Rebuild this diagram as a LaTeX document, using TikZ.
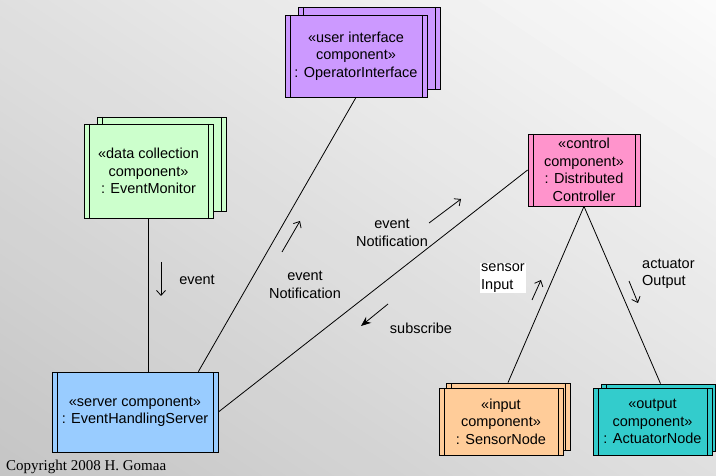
\documentclass[tikz,border=0pt]{standalone}
\usepackage{fontspec}
\setmainfont{Liberation Sans}
\newfontfamily\copyfont{Liberation Serif}
\usetikzlibrary{arrows.meta,calc}

\definecolor{uipurple}{HTML}{CC99FF}
\definecolor{dcgreen}{HTML}{CCFFCC}
\definecolor{ctlpink}{HTML}{FF94CC}
\definecolor{srvblue}{HTML}{99CCFF}
\definecolor{inorange}{HTML}{FFCC99}
\definecolor{outteal}{HTML}{33CCCC}

\newcommand\diafont{\fontsize{14.5}{17.5}\selectfont}

\tikzset{
  comp/.style={draw=black, line width=0.8pt, rectangle, inner sep=0pt,
    align=center, font=\diafont,
    path picture={
      \draw[line width=0.8pt]
        ([xshift=5pt]path picture bounding box.north west) --
        ([xshift=5pt]path picture bounding box.south west);
      \draw[line width=0.8pt]
        ([xshift=-5pt]path picture bounding box.north east) --
        ([xshift=-5pt]path picture bounding box.south east);
    }},
  link/.style={draw=black, line width=0.8pt},
  lab/.style={font=\diafont, align=center, inner sep=1pt},
  flow/.style={line width=0.8pt, -{Straight Barb[length=5pt,width=9pt]}},
  flowsolid/.style={line width=0.8pt, -{Stealth[length=10pt,width=8pt]}},
}

\begin{document}
\begin{tikzpicture}[x=1pt,y=-1pt]
  \useasboundingbox (0,0) rectangle (716,476);

  % diagonal grey-to-white backdrop, built from thin bands
  \begin{scope}
    \clip (0,0) rectangle (716,476);
    \foreach \k in {0,...,59} {
      \pgfmathsetmacro\ta{\k/60}
      \pgfmathsetmacro\tb{(\k+1.4)/60}
      \pgfmathsetmacro\lev{0.77+0.215*(\k+0.5)/60}
      \definecolor{bandcol}{gray}{\lev}
      \fill[bandcol]
        ({716*(\ta-0.5)},{476*(0.5-\ta)}) --
        ({716*(\tb-0.5)},{476*(0.5-\tb)}) --
        ({716*(\tb+0.5)},{476*(1.5-\tb)}) --
        ({716*(\ta+0.5)},{476*(1.5-\ta)}) -- cycle;
    }
  \end{scope}

  % user interface component (stacked)
  \node[comp, fill=uipurple, minimum width=142pt, minimum height=82pt] (uib) at (369,48) {};
  \node[comp, fill=uipurple, minimum width=142pt, minimum height=82pt] (ui) at (356,56)
    {«user interface\\component»\\: OperatorInterface};

  % data collection component (stacked)
  \node[comp, fill=dcgreen, minimum width=129pt, minimum height=94pt] (monb) at (161.5,164) {};
  \node[comp, fill=dcgreen, minimum width=129pt, minimum height=94pt] (mon) at (148.5,171)
    {«data collection\\component»\\: EventMonitor};

  % control component
  \node[comp, fill=ctlpink, minimum width=112pt, minimum height=72pt] (ctl) at (584,170)
    {«control\\component»\\: Distributed\\Controller};

  % server component
  \node[comp, fill=srvblue, minimum width=166pt, minimum height=80pt] (srv) at (135,412)
    {«server component»\\: EventHandlingServer};

  % input component (stacked)
  \node[comp, fill=inorange, minimum width=124pt, minimum height=67pt] (inpb) at (508,416.5) {};
  \node[comp, fill=inorange, minimum width=124pt, minimum height=67pt] (inp) at (501,421.5)
    {«input\\component»\\: SensorNode};

  % output component (stacked)
  \node[comp, fill=outteal, minimum width=119pt, minimum height=67pt] (outb) at (660.5,417.5) {};
  \node[comp, fill=outteal, minimum width=119pt, minimum height=67pt] (outp) at (652.5,421.5)
    {«output\\component»\\: ActuatorNode};

  % connectors
  \draw[link] (mon.south) -- (mon.south |- srv.north);
  \draw[link] ($(srv.north west)!0.88!(srv.north east)$) -- (ui.south);
  \draw[link] (srv.east) -- (ctl.west);
  \draw[link] (ctl.south) -- (inpb.north);
  \draw[link] (ctl.south) -- (outb.north);

  % message arrows
  \coordinate (evA) at (161,262);   \coordinate (evB) at (161,296);
  \coordinate (enA) at (282,252);   \coordinate (enB) at (300,221);
  \coordinate (ecA) at (429,223);   \coordinate (ecB) at (461,199);
  \coordinate (sbA) at (388,304);   \coordinate (sbB) at (361,326);
  \coordinate (siA) at (532,300);   \coordinate (siB) at (541,280);
  \coordinate (aoA) at (629,281);   \coordinate (aoB) at (638,303);
  \draw[flow] (evA) -- (evB);
  \draw[flow] (enA) -- (enB);
  \draw[flow] (ecA) -- (ecB);
  \draw[flowsolid] (sbA) -- (sbB);
  \draw[flow] (siA) -- (siB);
  \draw[flow] (aoA) -- (aoB);

  % message labels
  \node[lab] (lev) at (197,280) {event};
  \node[lab] (len) at (305,285) {event\\Notification};
  \node[lab] (lec) at (392,233) {event\\Notification};
  \node[lab] (lsb) at (421,328) {subscribe};
  \node[lab, align=left, anchor=west, fill=white] (lsi) at (480,278) {sensor\\Input};
  \node[lab, align=left, anchor=west] (lao) at (641,274) {actuator\\Output};

  % footer
  \node[font=\copyfont\fontsize{15}{18}\selectfont, anchor=base west, inner sep=0pt]
    (copy) at (6,470) {Copyright 2008 H. Gomaa};
\end{tikzpicture}
\end{document}
